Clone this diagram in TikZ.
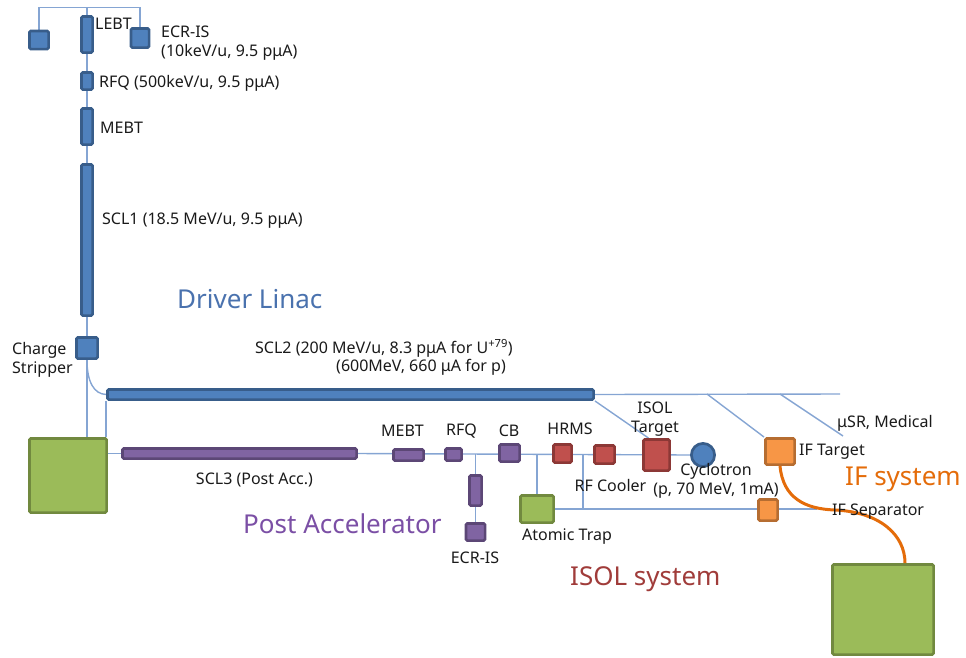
\documentclass[tikz,border=0pt]{standalone}
\usepackage{fontspec}
\setmainfont{Noto Sans}
\usetikzlibrary{backgrounds,calc}
\definecolor{bfill}{HTML}{4F81BD}\definecolor{bdraw}{HTML}{385D8A}
\definecolor{pfill}{HTML}{8064A2}\definecolor{pdraw}{HTML}{5C4776}
\definecolor{rfill}{HTML}{C0504D}\definecolor{rdraw}{HTML}{8C3836}
\definecolor{gfill}{HTML}{9BBB59}\definecolor{gdraw}{HTML}{71893F}
\definecolor{ofill}{HTML}{F79646}\definecolor{odraw}{HTML}{B66D31}
\definecolor{lc}{HTML}{85A5D3}
\definecolor{oline}{HTML}{E46C0A}
\definecolor{txt}{HTML}{1A1A1A}
\definecolor{dlc}{HTML}{4A72AE}
\definecolor{pac}{HTML}{7B4FA5}
\definecolor{isc}{HTML}{A03C3A}
\begin{document}
\begin{tikzpicture}[x=1pt,y=-1pt,
  box/.style={draw,line width=2.7pt,rounded corners=1.5pt,inner sep=0pt},
  bbox/.style={box,fill=bfill,draw=bdraw},
  pbox/.style={box,fill=pfill,draw=pdraw},
  rbox/.style={box,fill=rfill,draw=rdraw},
  gbox/.style={box,fill=gfill,draw=gdraw},
  obox/.style={box,fill=ofill,draw=odraw},
  lbl/.style={font=\fontsize{16}{19}\selectfont,text=txt,inner sep=0pt},
  big/.style={font=\fontsize{26}{30}\selectfont,inner sep=0pt},
  conn/.style={draw=lc,line width=1.4pt},
  oconn/.style={draw=oline,line width=3pt}]
\useasboundingbox (0,0) rectangle (966,657);
% driver linac
\node[bbox,minimum width=19.2,minimum height=18.2] (ls) at (39,40) {};
\node[bbox,minimum width=11.2,minimum height=36.2] (lebt) at (87,34.5) {};
\node[bbox,minimum width=18.2,minimum height=19.2] (ecr) at (140,38) {};
\node[bbox,minimum width=11.2,minimum height=17.2] (rfq) at (87,81) {};
\node[bbox,minimum width=11.2,minimum height=36.2] (mebt) at (87,126.5) {};
\node[bbox,minimum width=11.2,minimum height=151.2] (scl1) at (87,240) {};
\node[bbox,minimum width=21.2,minimum height=21.2] (cs) at (87,348) {};
\node[bbox,minimum width=486.2,minimum height=10.2] (scl2) at (350.5,394.5) {};
\node[gbox,minimum width=77.2,minimum height=74.2] (gl) at (68,475.5) {};
% post accelerator
\node[pbox,minimum width=234.2,minimum height=10.2] (scl3) at (239.5,453.5) {};
\node[pbox,minimum width=30.2,minimum height=11.2] (pmebt) at (408.5,455) {};
\node[pbox,minimum width=16.2,minimum height=12.2] (prfq) at (453.5,454.5) {};
\node[pbox,minimum width=12.2,minimum height=30.2] (pecrbar) at (475.5,490.5) {};
\node[pbox,minimum width=19.2,minimum height=17.2] (pecr) at (475.5,532) {};
\node[pbox,minimum width=20.2,minimum height=17.2] (cb) at (509.5,453) {};
% ISOL
\node[gbox,minimum width=33.2,minimum height=27.2] (at) at (537,509) {};
\node[rbox,minimum width=18.2,minimum height=18.2] (hrms) at (562.5,453.5) {};
\node[rbox,minimum width=20.2,minimum height=18.2] (rfc) at (604.5,454.5) {};
\node[rbox,minimum width=26.2,minimum height=31.2] (isol) at (656.5,455) {};
\node[draw=bdraw,fill=bfill,line width=2.7pt,circle,inner sep=0pt,minimum size=23.2] (cyc) at (703,455) {};
% IF
\node[obox,minimum width=29.2,minimum height=26.2] (ift) at (780,451.5) {};
\node[obox,minimum width=19.2,minimum height=21.2] (ifs) at (768,510) {};
\node[gbox,minimum width=101.2,minimum height=90.2] (gr) at (883,609.5) {};
% free ends
\coordinate (top) at (87,7.5);
\coordinate (le) at (817,509);
\coordinate (re) at (840,394);
\coordinate (d2a) at (707,394);
\coordinate (d3a) at (780,394);
\coordinate (d3b) at (843,436);
\coordinate (vrf) at (583,454);
\begin{scope}[on background layer]
\draw[conn] (ls.north) |- (top) -| (ecr.north);
\draw[conn] (top) -- (cs |- gl.north);
\draw[conn] (cs.south) .. controls (87,382) and (94,394) .. (scl2.west);
\draw[conn] (scl2.south west) -- (scl2.south west |- gl.north);
\draw[conn] (gl.east |- scl3.west) -- (scl3.west);
\draw[conn] (scl3.east) -- (cyc.west);
\draw[conn] (pecr) -- (pecr |- scl3.east);
\draw[conn] (at.north) -- (at.north |- scl3.east);
\draw[conn] (at.east) -- (le);
\draw[conn] (vrf) -- (vrf |- le);
\draw[conn] (scl2.east) -- (re);
\draw[conn] (scl2.south east) -- ([xshift=-8pt]isol.north);
\draw[conn] (d2a) -- (ift.north west);
\draw[conn] (d3a) -- (d3b);
\end{scope}
\draw[oconn] (ift.south) .. controls (783,498) and (805,509) .. (835,510) .. controls (880,512) and (905,535) .. ([xshift=22pt]gr.north);
% labels
\node[lbl,anchor=west] at (95,24) {LEBT};
\node[lbl,anchor=west,align=left] at (161,43.5) {ECR-IS\\(10keV/u, 9.5 pμA)};
\node[lbl,anchor=west] at (99,83) {RFQ (500keV/u, 9.5 pμA)};
\node[lbl,anchor=west] at (100,128) {MEBT};
\node[lbl,anchor=west] at (102,221) {SCL1 (18.5 MeV/u, 9.5 pμA)};
\node[big,text=dlc,anchor=west] at (177,299) {Driver Linac};
\node[lbl,anchor=west,align=left] at (12,359.5) {Charge\\Stripper};
\node[lbl,anchor=west] at (255,348) {SCL2 (200 MeV/u, 8.3 pμA for U\textsuperscript{+79})};
\node[lbl,anchor=west] at (336,367) {(600MeV, 660 μA for p)};
\node[lbl] at (254.5,480) {SCL3 (Post Acc.)};
\node[lbl] at (402.5,431) {MEBT};
\node[lbl] at (461.5,431) {RFQ};
\node[lbl] at (509,431) {CB};
\node[lbl] at (570,429) {HRMS};
\node[lbl] at (475,558) {ECR-IS};
\node[lbl] at (567,537) {Atomic Trap};
\node[lbl] at (610.5,485) {RF Cooler};
\node[lbl,align=center] at (655,419.5) {ISOL\\Target};
\node[lbl,align=center] at (716,481) {Cyclotron\\(p, 70 MeV, 1mA)};
\node[lbl,anchor=west] at (799,452) {IF Target};
\node[lbl,anchor=west] at (837,423) {μSR, Medical};
\node[lbl,anchor=west] at (832,512) {IF Separator};
\node[big,text=oline,anchor=west] at (845,479) {IF system};
\node[big,text=pac,anchor=west] at (243,524) {Post Accelerator};
\node[big,text=isc,anchor=west] at (570,579) {ISOL system};
\end{tikzpicture}
\end{document}
